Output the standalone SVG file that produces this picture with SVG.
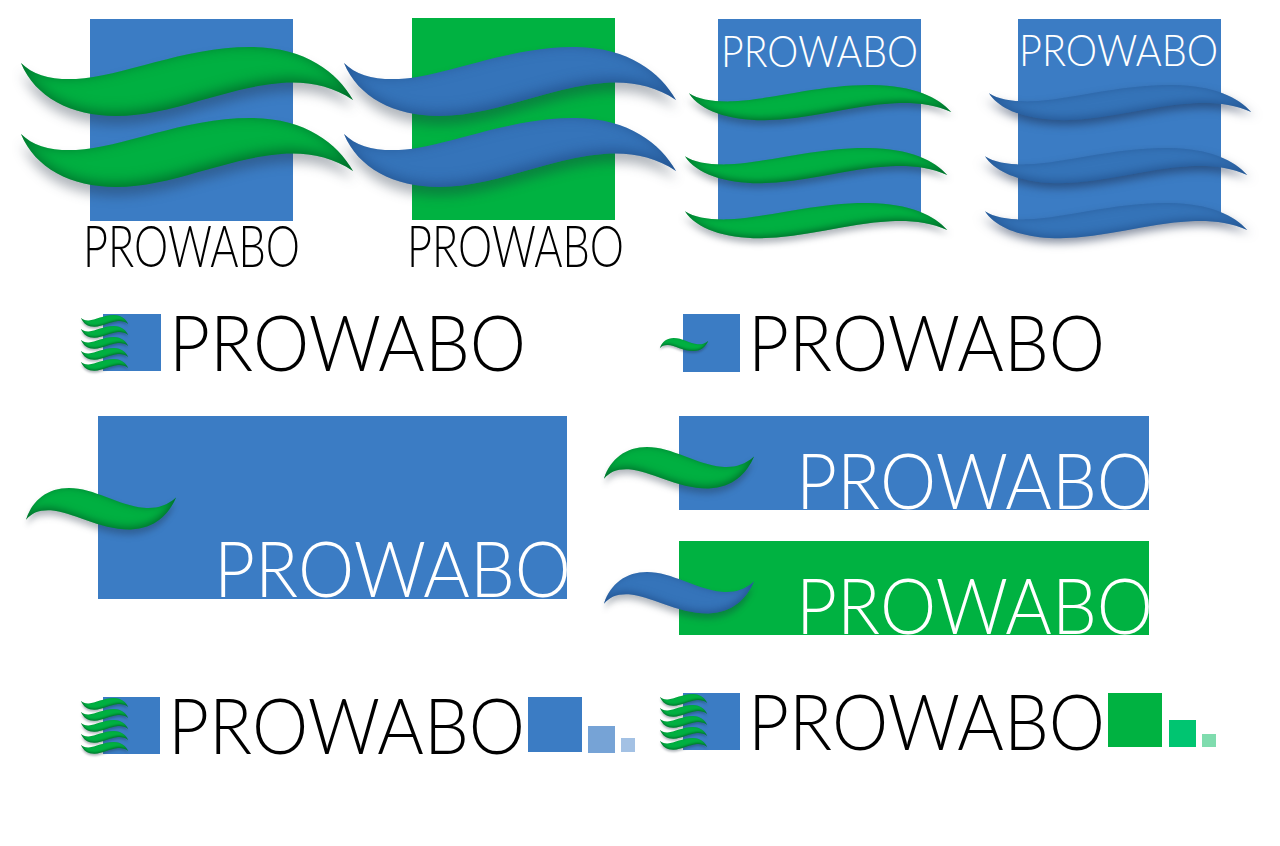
<svg xmlns="http://www.w3.org/2000/svg" width="1280" height="846" viewBox="0 0 1280 846">
<style>
.b{fill:#3b7cc4}.g{fill:#00b241}
.wg{fill:#00b041;filter:url(#fx)}
.wb{fill:#3574ba;filter:url(#fb)}
.wd{fill:#3574b9;filter:url(#fd)}
text{font-family:"Lato","Liberation Sans",sans-serif;font-weight:300}
.k{fill:#000}.w{fill:#fff}
</style>
<defs>
<path id="w" d="M0 16C12 28 30 33 55 32C100 30 165-1 232 0C285 1 316 25 332 53C310 38 285 34 260 36C205 40 150 69 95 69C50 69 14 50 0 16Z"/>
<path id="f" d="M0 53C12 41 30 36 55 37C100 39 165 70 232 69C285 68 316 44 332 16C310 31 285 35 260 33C205 29 150 0 95 0C50 0 14 19 0 53Z"/>
<filter id="fx" x="-8%" y="-20%" width="116%" height="170%" color-interpolation-filters="sRGB">
<feGaussianBlur in="SourceAlpha" stdDeviation="6"/><feOffset dy="9" result="s"/>
<feFlood flood-color="#1a2a3a" flood-opacity=".34"/><feComposite in2="s" operator="in" result="sh"/>
<feFlood flood-color="#000"/><feComposite in2="SourceAlpha" operator="out"/><feGaussianBlur stdDeviation="7"/><feOffset dx="-2" dy="-3" result="i"/>
<feFlood flood-color="#00401c" flood-opacity=".6"/><feComposite in2="i" operator="in"/><feComposite in2="SourceAlpha" operator="in" result="in"/>
<feMerge><feMergeNode in="sh"/><feMergeNode in="SourceGraphic"/><feMergeNode in="in"/></feMerge>
</filter>
<filter id="fb" x="-8%" y="-20%" width="116%" height="170%" color-interpolation-filters="sRGB">
<feGaussianBlur in="SourceAlpha" stdDeviation="6"/><feOffset dy="9" result="s"/>
<feFlood flood-color="#1a2a3a" flood-opacity=".34"/><feComposite in2="s" operator="in" result="sh"/>
<feFlood flood-color="#000"/><feComposite in2="SourceAlpha" operator="out"/><feGaussianBlur stdDeviation="7"/><feOffset dx="-2" dy="-3" result="i"/>
<feFlood flood-color="#143a70" flood-opacity=".55"/><feComposite in2="i" operator="in"/><feComposite in2="SourceAlpha" operator="in" result="in"/>
<feMerge><feMergeNode in="sh"/><feMergeNode in="SourceGraphic"/><feMergeNode in="in"/></feMerge>
</filter>
<filter id="fd" x="-8%" y="-20%" width="116%" height="170%" color-interpolation-filters="sRGB">
<feGaussianBlur in="SourceAlpha" stdDeviation="8"/><feOffset dy="10" result="s"/>
<feFlood flood-color="#1a2a4a" flood-opacity=".5"/><feComposite in2="s" operator="in" result="sh"/>
<feFlood flood-color="#000"/><feComposite in2="SourceAlpha" operator="out"/><feGaussianBlur stdDeviation="9"/><feOffset dy="-3" result="i"/>
<feFlood flood-color="#143a70" flood-opacity=".5"/><feComposite in2="i" operator="in"/><feComposite in2="SourceAlpha" operator="in" result="in"/>
<feMerge><feMergeNode in="sh"/><feMergeNode in="SourceGraphic"/><feMergeNode in="in"/></feMerge>
</filter>
</defs>
<rect width="1280" height="846" fill="#fff"/>

<g id="logo-1">
<rect class="b" x="90" y="19" width="203" height="202"/>
<use href="#w" class="wg" transform="translate(21,47)"/>
<use href="#w" class="wg" transform="translate(21,118)"/>
<text class="k" x="83" y="267" font-size="57" textLength="217" lengthAdjust="spacingAndGlyphs">PROWABO</text>
</g>
<g id="logo-2">
<rect class="g" x="412" y="18" width="203" height="202"/>
<use href="#w" class="wb" transform="translate(344,47)"/>
<use href="#w" class="wb" transform="translate(344,118)"/>
<text class="k" x="407" y="267" font-size="57" textLength="217" lengthAdjust="spacingAndGlyphs">PROWABO</text>
</g>
<g id="logo-3">
<rect class="b" x="718" y="19" width="203" height="201"/>
<text class="w" x="721" y="67" font-size="43" textLength="197" lengthAdjust="spacingAndGlyphs">PROWABO</text>
<use href="#w" class="wg" transform="translate(689,85) scale(.79,.51)"/>
<use href="#w" class="wg" transform="translate(685,148) scale(.79,.51)"/>
<use href="#w" class="wg" transform="translate(685,203) scale(.79,.51)"/>
</g>
<g id="logo-4">
<rect class="b" x="1018" y="19" width="203" height="201"/>
<text class="w" x="1019" y="66" font-size="43" textLength="199" lengthAdjust="spacingAndGlyphs">PROWABO</text>
<use href="#w" class="wd" transform="translate(989,85) scale(.79,.51)"/>
<use href="#w" class="wd" transform="translate(985,148) scale(.79,.51)"/>
<use href="#w" class="wd" transform="translate(985,203) scale(.79,.51)"/>
</g>
<g id="logo-5">
<rect class="b" x="103" y="314" width="58" height="57"/>
<use href="#w" class="wg" transform="translate(81,315) scale(.142,.17)"/>
<use href="#w" class="wg" transform="translate(81,326) scale(.142,.17)"/>
<use href="#w" class="wg" transform="translate(81,337) scale(.142,.17)"/>
<use href="#w" class="wg" transform="translate(81,348) scale(.142,.17)"/>
<use href="#w" class="wg" transform="translate(81,359) scale(.142,.17)"/>
<text class="k" x="169" y="371" font-size="77" textLength="357" lengthAdjust="spacingAndGlyphs">PROWABO</text>
</g>
<g id="logo-6">
<rect class="b" x="683" y="314" width="57" height="58"/>
<use href="#f" class="wg" transform="translate(660,338) scale(.145,.19)"/>
<text class="k" x="748" y="371" font-size="77" textLength="357" lengthAdjust="spacingAndGlyphs">PROWABO</text>
</g>
<g id="logo-7">
<rect class="b" x="98" y="416" width="469" height="183"/>
<use href="#f" class="wg" transform="translate(26,488) scale(.452,.6)"/>
<text class="w" x="214" y="597" font-size="77" textLength="357" lengthAdjust="spacingAndGlyphs">PROWABO</text>
</g>
<g id="logo-8">
<rect class="b" x="679" y="416" width="470" height="94"/>
<use href="#f" class="wg" transform="translate(604,447) scale(.452,.6)"/>
<text class="w" x="796" y="509" font-size="77" textLength="357" lengthAdjust="spacingAndGlyphs">PROWABO</text>
</g>
<g id="logo-9">
<rect class="g" x="679" y="541" width="470" height="94"/>
<use href="#f" class="wb" transform="translate(604,572) scale(.452,.6)"/>
<text class="w" x="796" y="634" font-size="77" textLength="357" lengthAdjust="spacingAndGlyphs">PROWABO</text>
</g>
<g id="logo-10">
<rect class="b" x="103" y="697" width="57" height="57"/>
<use href="#w" class="wg" transform="translate(81,698) scale(.142,.17)"/>
<use href="#w" class="wg" transform="translate(81,709) scale(.142,.17)"/>
<use href="#w" class="wg" transform="translate(81,720) scale(.142,.17)"/>
<use href="#w" class="wg" transform="translate(81,731) scale(.142,.17)"/>
<use href="#w" class="wg" transform="translate(81,742) scale(.142,.17)"/>
<text class="k" x="168" y="754" font-size="77" textLength="357" lengthAdjust="spacingAndGlyphs">PROWABO</text>
<rect class="b" x="528" y="697" width="54" height="55"/>
<rect x="588" y="726" width="27" height="27" fill="#76a3d6"/>
<rect x="621" y="738" width="14" height="14" fill="#a3c1e4"/>
</g>
<g id="logo-11">
<rect class="b" x="683" y="693" width="57" height="57"/>
<use href="#w" class="wg" transform="translate(660,694) scale(.142,.17)"/>
<use href="#w" class="wg" transform="translate(660,705) scale(.142,.17)"/>
<use href="#w" class="wg" transform="translate(660,716) scale(.142,.17)"/>
<use href="#w" class="wg" transform="translate(660,727) scale(.142,.17)"/>
<use href="#w" class="wg" transform="translate(660,738) scale(.142,.17)"/>
<text class="k" x="748" y="750" font-size="77" textLength="357" lengthAdjust="spacingAndGlyphs">PROWABO</text>
<rect class="g" x="1108" y="693" width="54" height="54"/>
<rect x="1169" y="720" width="27" height="27" fill="#00c571"/>
<rect x="1202" y="734" width="14" height="13" fill="#7fdcae"/>
</g>
</svg>
